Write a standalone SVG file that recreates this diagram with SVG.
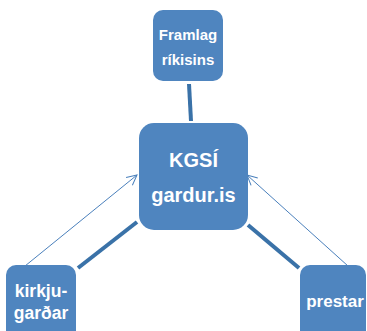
<svg xmlns="http://www.w3.org/2000/svg" width="367" height="331" viewBox="0 0 367 331">
<defs>
<style>
.box{fill:#4F85BF;}
.t{font-family:"Liberation Sans",Arial,sans-serif;font-weight:bold;fill:#fff;text-anchor:middle;}
.thick{stroke:#3A72A8;stroke-width:4;fill:none;}
.thin{stroke:#4A80BC;stroke-width:1;fill:none;}
</style>
<marker id="ah" viewBox="0 0 12 12" refX="11" refY="6" markerWidth="12" markerHeight="12" markerUnits="userSpaceOnUse" orient="auto">
<path d="M1,1 L11,6 L1,11" fill="none" stroke="#4A80BC" stroke-width="1"/>
</marker>
</defs>
<rect width="367" height="331" fill="#fff"/>
<g id="connectors">
<line class="thick" x1="189" y1="84" x2="191" y2="121"/>
<line class="thick" x1="78" y1="268" x2="137" y2="222"/>
<line class="thick" x1="248" y1="225" x2="299" y2="268"/>
<line class="thin" x1="25" y1="266" x2="137" y2="175" marker-end="url(#ah)"/>
<line class="thin" x1="348" y1="266" x2="247" y2="175" marker-end="url(#ah)"/>
</g>
<g id="framlag">
<rect class="box" x="153" y="10" width="70" height="71" rx="10"/>
<text class="t" x="188" y="40" font-size="15">Framlag</text>
<text class="t" x="188" y="65" font-size="15">ríkisins</text>
</g>
<g id="kgsi">
<rect class="box" x="139" y="123" width="109" height="107" rx="15"/>
<text class="t" x="193.5" y="167" font-size="20">KGSÍ</text>
<text class="t" x="193.5" y="202" font-size="20">gardur.is</text>
</g>
<g id="kirkjugardar">
<rect class="box" x="6" y="265" width="70" height="80" rx="10"/>
<text class="t" x="41" y="297" font-size="17.5">kirkju-</text>
<text class="t" x="41" y="319" font-size="17.5">garðar</text>
</g>
<g id="prestar">
<rect class="box" x="300" y="265" width="66" height="80" rx="10"/>
<text class="t" x="335" y="307" font-size="17">prestar</text>
</g>
</svg>
